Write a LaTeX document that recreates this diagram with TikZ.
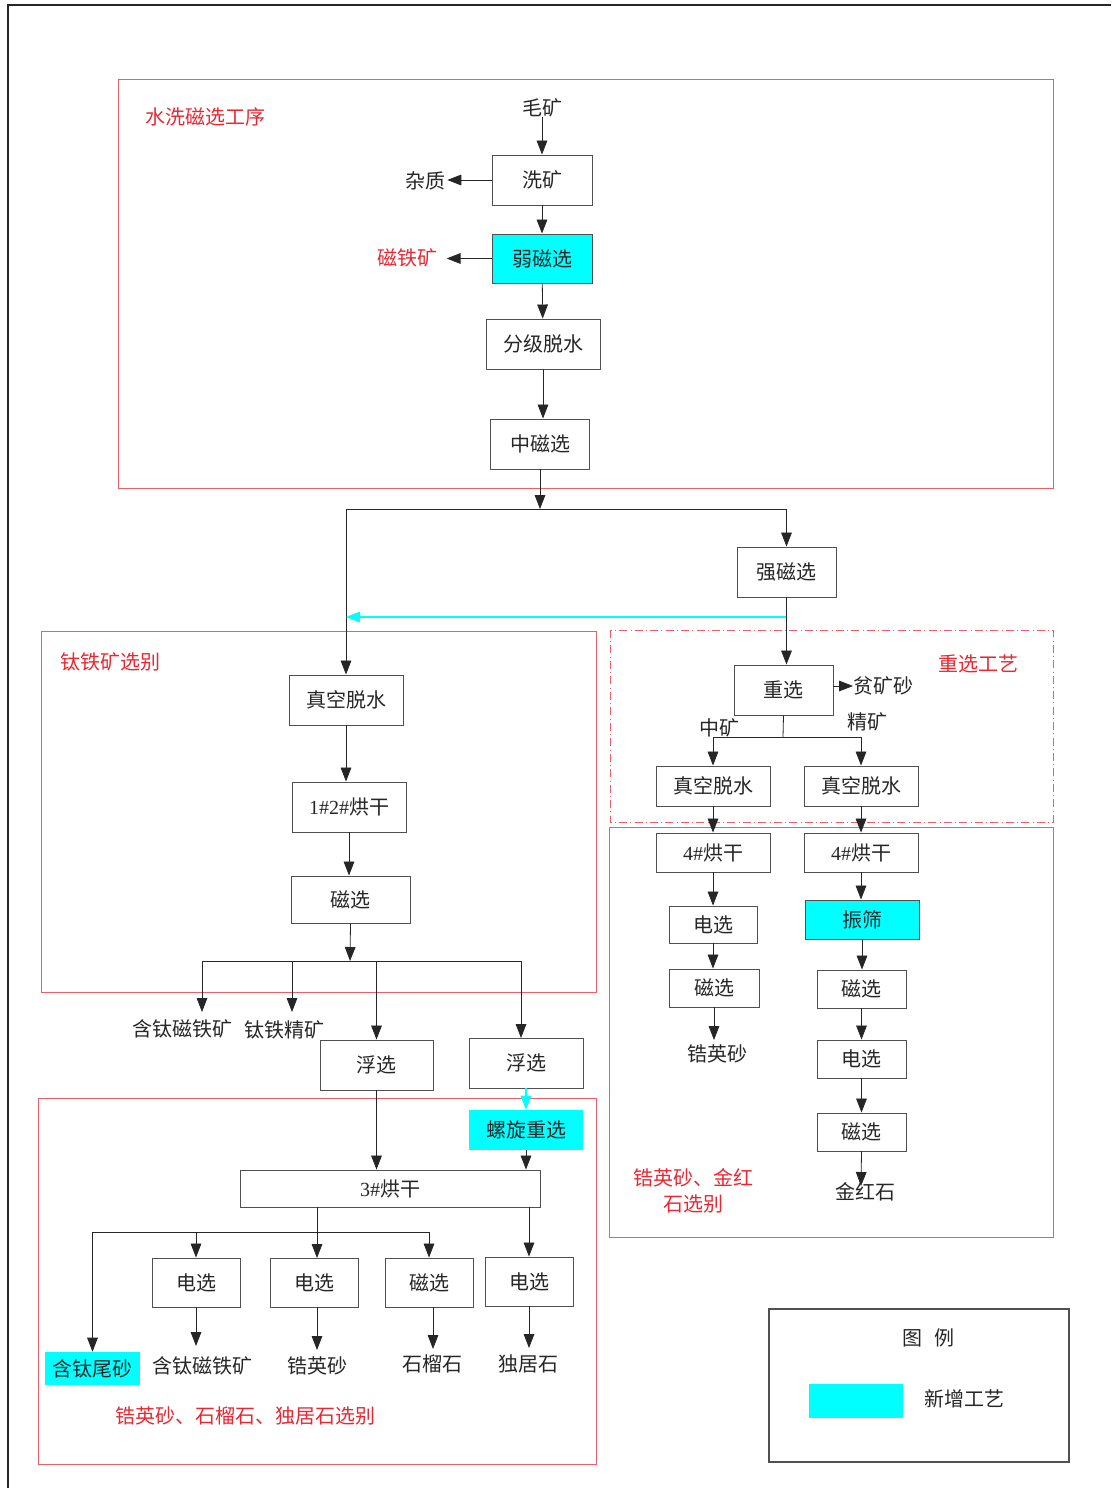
\documentclass[tikz,border=0pt]{standalone}
\usepackage{fontspec}
\setmainfont{Liberation Serif}
\newfontfamily\cjk{Noto Sans CJK SC}
\newfontfamily\latf{Liberation Serif}
\usetikzlibrary{arrows.meta}
\definecolor{redline}{RGB}{232,96,106}
\definecolor{redtext}{RGB}{230,40,50}
\definecolor{boxgray}{RGB}{80,80,80}
\definecolor{newc}{RGB}{0,255,255}
\tikzset{
  box/.style={draw=boxgray, line width=0.7pt, inner sep=0pt, font=\cjk\fontsize{15}{17}\selectfont, text=black!85},
  sz/.style 2 args={minimum width={#1*0.75pt}, minimum height={#2*0.75pt}},
  newbox/.style={box, fill=newc},
  newplain/.style={fill=newc, inner sep=0pt, font=\cjk\fontsize{15}{17}\selectfont, text=black!85},
  lbl/.style={inner sep=0pt, font=\cjk\fontsize{15}{17}\selectfont, text=black!85},
  redlbl/.style={inner sep=0pt, font=\cjk\fontsize{15}{17}\selectfont, text=redtext},
  arr/.style={draw=black!85, line width=0.6pt, -{Triangle[length=10.5pt,width=8pt]}},
  carr/.style={draw=newc, line width=0.8pt, -{Triangle[length=10.5pt,width=8pt,fill=newc]}},
  ln/.style={draw=black!85, line width=0.6pt},
  redbox/.style={draw=redline, line width=0.7pt},
  reddash/.style={draw=redline, line width=0.7pt, dash pattern=on 6pt off 2.5pt on 0.6pt off 2.5pt}
}
\begin{document}
\begin{tikzpicture}[x=0.75pt,y=-0.75pt]
\useasboundingbox (0,0) rectangle (1111,1488);
% outer frame
\draw[line width=1.6pt, black!85] (8,1488) -- (8,5) -- (1111,5);

% red section frames
\draw[redbox] (118,79) rectangle (1053,488);
\draw[redbox] (41,631) rectangle (596,992);
\draw[reddash] (610,630) rectangle (1053,822);
\draw[redbox] (609,827) rectangle (1053,1237);
\draw[redbox] (38,1098) rectangle (596,1464);

\node[redlbl, anchor=west] (tA) at (145,117) {水洗磁选工序};
\node[redlbl, anchor=west] (tB) at (60,662) {钛铁矿选别};
\node[redlbl, anchor=west] (tC) at (938,664) {重选工艺};
\node[redlbl, align=center] (tD) at (693,1191) {锆英砂、金红\\[3pt]石选别};
\node[redlbl] (tE) at (245,1416) {锆英砂、石榴石、独居石选别};

% top section
\node[lbl] (mk) at (542,108) {毛矿};
\node[box, sz={100}{50}] (xk) at (542,180) {洗矿};
\node[lbl] (zz) at (425,181) {杂质};
\node[newbox, sz={100}{49}] (rc) at (542,258.5) {弱磁选};
\node[redlbl] (cty) at (407,258) {磁铁矿};
\node[box, sz={114}{50}] (fj) at (543,344) {分级脱水};
\node[box, sz={99}{50}] (zc) at (540,444) {中磁选};

\draw[arr] (mk.south) -- (xk.north);
\draw[arr] (xk.west) -- ([xshift=1.5pt]xk.west -| zz.east);
\draw[arr] (xk) -- (rc);
\draw[arr] (rc.west) -- ([xshift=7pt]rc.west -| cty.east);
\draw[arr] (rc) -- (fj);
\draw[arr] (fj.south) -- (fj.south |- zc.north);

% split
\node[box, sz={99}{50}] (qc) at (786.5,572) {强磁选};
\node[box, sz={114}{50}] (zk1) at (346,700) {真空脱水};
\coordinate (j1) at (540,509);
\draw[arr] (zc.south) -- (j1);
\draw[arr] (j1) -| (qc.north);
\draw[arr] (j1) -| (zk1.north);
\coordinate (c1) at (786.5,617);
\coordinate (c2) at (346,617);
\draw[carr] (c1) -- (c2);

% gravity section
\node[box, sz={99}{50}] (zx) at (783.5,690) {重选};
\node[lbl, anchor=west] (pks) at (853,686) {贫矿砂};
\node[lbl] (zkt) at (719,728) {中矿};
\node[lbl] (jkt) at (867,722) {精矿};
\node[box, sz={114}{40}] (zkL) at (713,786) {真空脱水};
\node[box, sz={114}{40}] (zkR) at (861,786) {真空脱水};
\draw[arr] (qc.south) -- (qc.south |- zx.north);
\draw[arr] (zx.east |- pks) -- (pks.west);
\coordinate (j2) at (783,737);
\draw[ln] (zx.south) -- (j2);
\draw[arr] (j2) -| (zkL.north);
\draw[arr] (j2) -| (zkR.north);

% zircon/rutile section
\node[box, sz={114}{39}] (hgL) at (713,852.5) {{\latf 4\#}烘干};
\node[box, sz={114}{39}] (hgR) at (861,852.5) {{\latf 4\#}烘干};
\node[box, sz={88}{37}] (dxL) at (713,924.5) {电选};
\node[box, sz={90}{38}] (cxL) at (714,988) {磁选};
\node[lbl] (gys1) at (717,1054) {锆英砂};
\node[newbox, sz={114}{39}] (zs) at (862,919.5) {振筛};
\node[box, sz={89}{38}] (cxR1) at (861.5,989) {磁选};
\node[box, sz={89}{38}] (dxR) at (861.5,1059) {电选};
\node[box, sz={89}{38}] (cxR2) at (861.5,1132) {磁选};
\node[lbl] (jhs) at (865,1192) {金红石};
\coordinate (e1) at (714,1040);
\coordinate (e2) at (861,1186);
\draw[arr] (zkL) -- (hgL);
\draw[arr] (zkR) -- (hgR);
\draw[arr] (hgL.south) -- (hgL.south |- dxL.north);
\draw[arr] (dxL.south) -- (dxL.south |- cxL.north);
\draw[arr] (cxL.south) -- (e1);
\draw[arr] (hgR.south) -- (hgR.south |- zs.north);
\draw[arr] (zs.south) -- (zs.south |- cxR1.north);
\draw[arr] (cxR1) -- (dxR);
\draw[arr] (dxR) -- (cxR2);
\draw[arr] (cxR2.south) -- (e2);

% ilmenite section
\node[box, sz={114}{50}] (hg12) at (349,807) {{\latf 1\#2\#}烘干};
\node[box, sz={119}{47}] (cx1) at (350.5,899.5) {磁选};
\draw[arr] (zk1.south) -- (zk1.south |- hg12.north);
\draw[arr] (hg12) -- (cx1.north -| hg12);
\coordinate (j3) at (350,961);
\draw[arr] (cx1.south) -- (j3);
\node[lbl] (hcti) at (182,1029) {含钛磁铁矿};
\node[lbl] (tjjk) at (284,1030) {钛铁精矿};
\node[box, sz={113}{50}] (fx1) at (376.5,1065) {浮选};
\node[box, sz={114}{50}] (fx2) at (526,1063) {浮选};
\coordinate (a1) at (202,1012);
\coordinate (a2) at (292,1012);
\coordinate (a3) at (521,1038);
\draw[arr] (j3) -| (a1);
\draw[arr] (j3) -| (a2);
\draw[arr] (j3) -| (fx1.north);
\draw[arr] (j3) -| (a3);

% bottom section
\node[newplain, sz={114}{40}] (lx) at (526,1130) {螺旋重选};
\node[box, sz={300}{37}] (hg3) at (390,1188.5) {{\latf 3\#}烘干};
\draw[carr] (fx2.south) -- (lx.north);
\draw[arr] (fx1.south) -- (fx1.south |- hg3.north);
\draw[arr] (lx.south) -- (lx.south |- hg3.north);

\node[box, sz={88}{49}] (dx1) at (196,1282.5) {电选};
\node[box, sz={88}{49}] (dx2) at (314,1282.5) {电选};
\node[box, sz={88}{49}] (cx3) at (429,1282.5) {磁选};
\node[box, sz={88}{49}] (dx4) at (529,1281.5) {电选};
\node[newplain, sz={95}{33}] (wk) at (92.5,1368.5) {含钛尾砂};

\coordinate (h1) at (317,1207);
\coordinate (j4) at (317,1232);
\coordinate (h2) at (317,1258);
\draw[ln] (h1) -- (j4);
\draw[arr] (j4) -| (wk.north);
\draw[arr] (j4) -| (dx1.north);
\draw[arr] (j4) -- (h2);
\draw[arr] (j4) -| (cx3.north);
\draw[arr] (hg3.south -| dx4) -- (dx4.north);

\node[lbl] (o1) at (202,1366) {含钛磁铁矿};
\node[lbl] (o2) at (317,1366) {锆英砂};
\node[lbl] (o3) at (432,1364) {石榴石};
\node[lbl] (o4) at (528,1364) {独居石};
\coordinate (b1) at (196,1346);
\coordinate (b2) at (317,1350);
\coordinate (b3) at (433,1349);
\coordinate (b4) at (529,1348);
\draw[arr] (dx1.south) -- (b1);
\draw[arr] (dx2.south -| b2) -- (b2);
\draw[arr] (cx3.south -| b3) -- (b3);
\draw[arr] (dx4.south) -- (b4);

% legend
\draw[draw=boxgray, line width=0.8pt] (769,1309) rectangle (1069,1462);
\node[lbl] (lgt) at (928,1338) {图\hspace{0.6em}例};
\fill[newc] (809,1384) rectangle (903,1418);
\node[lbl] (lgn) at (964,1399) {新增工艺};
\end{tikzpicture}
\end{document}
